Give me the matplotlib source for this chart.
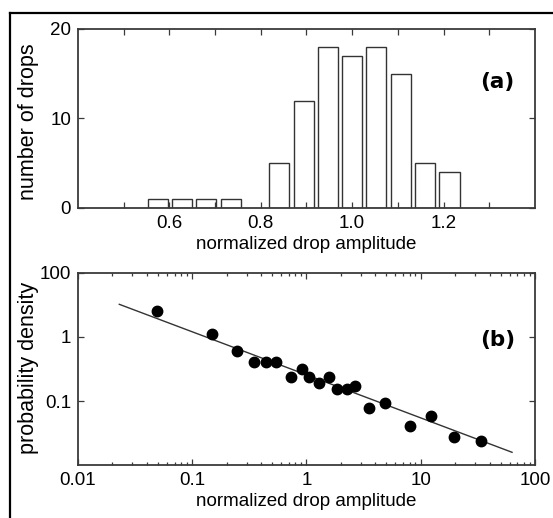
import matplotlib
matplotlib.use("Agg")
import matplotlib.pyplot as plt
from matplotlib.lines import Line2D

# (a) histogram of drop amplitudes
bin_centers = [0.575, 0.628, 0.681, 0.734, 0.840, 0.894, 0.947, 1.000, 1.053, 1.106, 1.160, 1.213]
bin_counts = [1, 1, 1, 1, 5, 12, 18, 17, 18, 15, 5, 4]

# (b) probability density, log-log
amp = [0.049, 0.148, 0.245, 0.345, 0.438, 0.542, 0.725, 0.923, 1.06, 1.29,
       1.57, 1.84, 2.25, 2.66, 3.56, 4.89, 8.13, 12.3, 19.7, 34.0]
density = [2.55, 1.11, 0.61, 0.40, 0.40, 0.40, 0.235, 0.316, 0.235, 0.193,
           0.235, 0.152, 0.152, 0.171, 0.077, 0.092, 0.041, 0.059, 0.027, 0.024]
fit_x = [0.023, 63.0]
fit_y = [3.24, 0.0158]

font = ["Liberation Sans", "DejaVu Sans"]
axcol = "#3a3a3a"

fig = plt.figure(figsize=(5.53, 5.18), dpi=100)
ax1 = fig.add_axes([0.141, 0.5985, 0.8264, 0.3456])
ax2 = fig.add_axes([0.141, 0.1023, 0.8264, 0.3707])

for ax in (ax1, ax2):
    for s in ax.spines.values():
        s.set_color(axcol)
        s.set_linewidth(1.3)
    ax.tick_params(which="both", direction="in", top=True, right=True, color=axcol, width=0.9)
    ax.tick_params(which="major", length=4, labelsize=13.5, pad=5)
    ax.tick_params(which="minor", length=2.5)

ax1.bar(bin_centers, bin_counts, width=0.044, facecolor="white", edgecolor="#333333", linewidth=1.0)
ax1.set_xlim(0.4, 1.4)
ax1.set_ylim(0, 20)
ax1.set_xticks([0.5, 0.6, 0.7, 0.8, 0.9, 1.0, 1.1, 1.2, 1.3])
ax1.set_xticklabels(["", "0.6", "", "0.8", "", "1.0", "", "1.2", ""], family=font)
ax1.set_yticks([0, 10, 20])
ax1.set_yticklabels(["0", "10", "20"], family=font)
ax1.set_xlabel("normalized drop amplitude", family=font, fontsize=13.5, labelpad=3)
ax1.set_ylabel("number of drops", family=font, fontsize=15.5)
ax1.yaxis.set_label_coords(-0.085, 0.48)
ax1.text(0.917, 0.704, "(a)", transform=ax1.transAxes, ha="center", va="center",
         fontsize=15.5, fontweight="bold", family="DejaVu Sans")

ax2.set_xscale("log")
ax2.set_yscale("log")
ax2.plot(fit_x, fit_y, color="#333333", lw=1.0)
ax2.plot(amp, density, "o", color="black", ms=7.5)
ax2.set_xlim(0.01, 100)
ax2.set_ylim(0.01, 10)
ax2.set_xticks([0.01, 0.1, 1, 10, 100])
ax2.set_xticklabels(["0.01", "0.1", "1", "10", "100"], family=font)
ax2.set_yticks([0.1, 1, 10])
ax2.set_yticklabels(["0.1", "1", "100"], family=font)
ax2.yaxis.set_minor_locator(matplotlib.ticker.NullLocator())
ax2.set_xlabel("normalized drop amplitude", family=font, fontsize=13.5, labelpad=3)
ax2.set_ylabel("probability density", family=font, fontsize=15.5)
ax2.yaxis.set_label_coords(-0.085, 0.505)
ax2.text(0.919, 0.651, "(b)", transform=ax2.transAxes, ha="center", va="center",
         fontsize=15.5, fontweight="bold", family="DejaVu Sans")

# outer frame (only top and left edges fall inside the picture)
fig.add_artist(Line2D([9.5 / 553, 9.5 / 553], [0, 1 - 12.5 / 518], color="black", lw=1.6))
fig.add_artist(Line2D([9.5 / 553, 1], [1 - 12.5 / 518, 1 - 12.5 / 518], color="black", lw=1.6))

fig.savefig("out.png", dpi=100, facecolor="white")
